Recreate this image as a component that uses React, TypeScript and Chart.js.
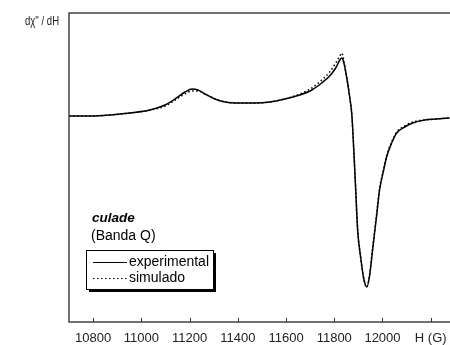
import { useEffect, useRef } from "react";
import { Chart, registerables } from "chart.js";

Chart.register(...registerables);

// Magnetic field (G)
const fieldG = [
  10700, 10788, 10870, 10953, 11036, 11098, 11140, 11181, 11210, 11235,
  11264, 11305, 11347, 11409, 11471, 11533, 11595, 11657, 11707, 11748,
  11781, 11806, 11823, 11831, 11839, 11852, 11864, 11873, 11881, 11889,
  11897, 11910, 11922, 11935, 11947, 11959, 11976, 11988, 12005, 12017,
  12038, 12059, 12092, 12125, 12175, 12224, 12278,
];
// dχ''/dH (arbitrary units)
const experimental = [
  0, 0, 1, 3, 6, 11, 17, 24, 27, 26,
  22, 17, 14, 13, 13, 14, 17, 21, 26, 33,
  40, 48, 56, 58, 54, 38, 19, 1, -34, -74,
  -114, -142, -162, -171, -159, -134, -99, -74, -54, -41,
  -27, -17, -11, -7, -4, -3, -2,
];
const simulated = [
  0, 0, 1, 3, 6, 10, 16, 22, 25, 25,
  22, 17, 14, 13, 13, 14, 17, 22, 28, 36,
  44, 53, 60, 63, 56, 38, 19, 1, -34, -74,
  -114, -143, -163, -171, -158, -132, -97, -72, -53, -40,
  -26, -16, -10, -6, -4, -3, -2,
];
const xTicks = [10800, 11000, 11200, 11400, 11600, 11800, 12000, 12200];
const xTickLabels = ["10800", "11000", "11200", "11400", "11600", "11800", "12000", "H (G)"];
const yAxisLabel = "dχ'' / dH";
const sampleName = "culade";
const bandName = "(Banda Q)";
const legendLabels = ["experimental", "simulado"];

const FONT = "'Liberation Sans', Arial, sans-serif";

const decorPlugin = {
  id: "decor",
  afterDatasetsDraw(chart: any) {
    const ctx = chart.ctx as CanvasRenderingContext2D;
    const { left, top, bottom } = chart.chartArea;
    const xs = chart.scales.x;
    ctx.save();
    // frame
    ctx.strokeStyle = "#444";
    ctx.lineWidth = 1.5;
    ctx.beginPath();
    ctx.moveTo(chart.width, top);
    ctx.lineTo(left, top);
    ctx.lineTo(left, bottom);
    ctx.lineTo(chart.width, bottom);
    ctx.stroke();
    // inward ticks
    ctx.lineWidth = 1;
    ctx.strokeStyle = "#333";
    ctx.beginPath();
    for (const v of xTicks) {
      const px = Math.round(xs.getPixelForValue(v)) + 0.5;
      ctx.moveTo(px, bottom);
      ctx.lineTo(px, bottom - 4);
    }
    ctx.stroke();
    // y axis label
    ctx.fillStyle = "#222";
    ctx.font = `12px ${FONT}`;
    ctx.textBaseline = "middle";
    ctx.textAlign = "left";
    ctx.fillText(yAxisLabel, 25, 22, 34);
    // sample annotations
    ctx.font = `bold italic 13.5px ${FONT}`;
    ctx.fillStyle = "#000";
    ctx.fillText(sampleName, 92, 218);
    ctx.font = `14px ${FONT}`;
    ctx.fillText(bandName, 91, 236);
    // legend box with shadow
    const bx = 86, by = 250, bw = 127, bh = 39;
    ctx.fillStyle = "#000";
    ctx.fillRect(bx + 3, by + 3, bw, bh);
    ctx.fillStyle = "#fff";
    ctx.fillRect(bx, by, bw, bh);
    ctx.strokeStyle = "#000";
    ctx.lineWidth = 1;
    ctx.strokeRect(bx + 0.5, by + 0.5, bw, bh);
    ctx.lineWidth = 1.2;
    ctx.beginPath();
    ctx.moveTo(93, 262.5);
    ctx.lineTo(127, 262.5);
    ctx.stroke();
    ctx.setLineDash([1.5, 2.5]);
    ctx.beginPath();
    ctx.moveTo(93, 278.5);
    ctx.lineTo(127, 278.5);
    ctx.stroke();
    ctx.setLineDash([]);
    ctx.fillStyle = "#000";
    ctx.font = `14px ${FONT}`;
    ctx.fillText(legendLabels[0], 129, 262, 80);
    ctx.fillText(legendLabels[1], 129, 278);
    ctx.restore();
  },
};

export default function App() {
  const ref = useRef<HTMLCanvasElement | null>(null);
  useEffect(() => {
    if (!ref.current) return;
    const chart = new Chart(ref.current, {
      type: "line",
      data: {
        datasets: [
          {
            label: legendLabels[1],
            data: fieldG.map((x, i) => ({ x, y: simulated[i] })),
            borderColor: "#000",
            borderWidth: 1.5,
            borderDash: [1.5, 2.5],
            pointRadius: 0,
            cubicInterpolationMode: "monotone",
          },
          {
            label: legendLabels[0],
            data: fieldG.map((x, i) => ({ x, y: experimental[i] })),
            borderColor: "#000",
            borderWidth: 1.5,
            pointRadius: 0,
            cubicInterpolationMode: "monotone",
          },
        ],
      },
      options: {
        animation: false,
        responsive: false,
        maintainAspectRatio: false,
        layout: { padding: { left: 69, top: 13, right: 0, bottom: 0 } },
        plugins: { legend: { display: false }, tooltip: { enabled: false } },
        scales: {
          x: {
            type: "linear",
            min: 10700,
            max: 12280,
            afterBuildTicks: (scale: any) => {
              scale.ticks = xTicks.map((v) => ({ value: v }));
            },
            afterFit: (scale: any) => {
              scale.height = 23;
              scale.paddingLeft = 0;
              scale.paddingRight = 0;
            },
            grid: { display: false, drawTicks: false },
            border: { display: false },
            ticks: {
              autoSkip: false,
              maxRotation: 0,
              padding: 9,
              color: "#222",
              font: { family: FONT, size: 13 },
              callback: (v: any) => {
                const i = xTicks.indexOf(Number(v));
                return i >= 0 ? xTickLabels[i] : "";
              },
            },
          },
          y: {
            display: false,
            min: -206,
            max: 103,
          },
        },
      },
      plugins: [decorPlugin],
    } as any);
    return () => chart.destroy();
  }, []);
  return (
    <div style={{ position: "fixed", left: 0, top: 0, width: 450, height: 345, background: "#fff" }}>
      <canvas ref={ref} width={450} height={345} style={{ display: "block" }} />
    </div>
  );
}
